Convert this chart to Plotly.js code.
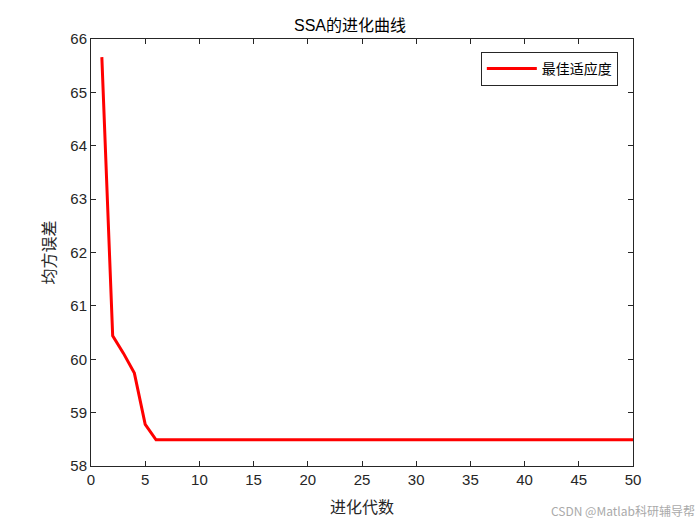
<!DOCTYPE html>
<html><head><meta charset="utf-8">
<script src="https://cdn.plot.ly/plotly-3.0.1.min.js"></script>
<style>html,body{margin:0;padding:0;background:#fff}</style>
</head><body>
<div id="chart" style="width:700px;height:525px"></div>
<script>
const generations = Array.from({length: 50}, (_, i) => i + 1);
const headValues = [65.66, 60.44, 60.11, 59.74, 58.78, 58.49];
const tailValue = 58.49;
const fitness = generations.map((g, i) => i < headValues.length ? headValues[i] : tailValue);
const xTicks = [0,5,10,15,20,25,30,35,40,45,50];
const yTicks = [58,59,60,61,62,63,64,65,66];

const axisCommon = {
  showgrid: false, zeroline: false, showline: true, mirror: 'ticks',
  linecolor: '#262626', linewidth: 1, ticks: 'inside', ticklen: 5, tickcolor: '#262626',
  tickfont: {family: 'Liberation Sans, Arial, sans-serif', size: 15, color: '#262626'}
};

Plotly.newPlot('chart', [{
  x: generations, y: fitness, type: 'scatter', mode: 'lines',
  line: {color: '#ff0000', width: 3}, name: '最佳适应度'
}], {
  width: 700, height: 525,
  margin: {l: 91, r: 67, t: 39, b: 59},
  paper_bgcolor: '#fff', plot_bgcolor: '#fff',
  title: {text: 'SSA的进化曲线', x: 0.5, xanchor: 'center', y: 0.962, yanchor: 'top',
    font: {family: 'Liberation Sans, Noto Sans CJK SC, sans-serif', size: 16, color: '#000'}},
  xaxis: Object.assign({}, axisCommon, {range: [0, 50], tickvals: xTicks,
    title: {text: '进化代数', standoff: 14, font: {family: 'Noto Sans CJK SC, serif', size: 16, color: '#262626'}}}),
  yaxis: Object.assign({}, axisCommon, {range: [58, 66], tickvals: yTicks,
    title: {text: '均方误差', standoff: 10, font: {family: 'Noto Sans CJK SC, serif', size: 16, color: '#262626'}}}),
  showlegend: true,
  legend: {x: 0.972, xanchor: 'right', y: 0.97, yanchor: 'top', bgcolor: '#fff',
    bordercolor: '#262626', borderwidth: 1, itemwidth: 50,
    font: {family: 'Noto Sans CJK SC, serif', size: 14, color: '#000'}},
  annotations: [{text: 'CSDN @Matlab科研辅导帮', xref: 'paper', yref: 'paper', x: 1.118, y: -0.128,
    xanchor: 'right', yanchor: 'bottom', showarrow: false,
    font: {family: 'Noto Sans CJK SC, sans-serif', size: 12, color: '#aaaaaa'}}]
}, {displayModeBar: false});
</script>
</body></html>
